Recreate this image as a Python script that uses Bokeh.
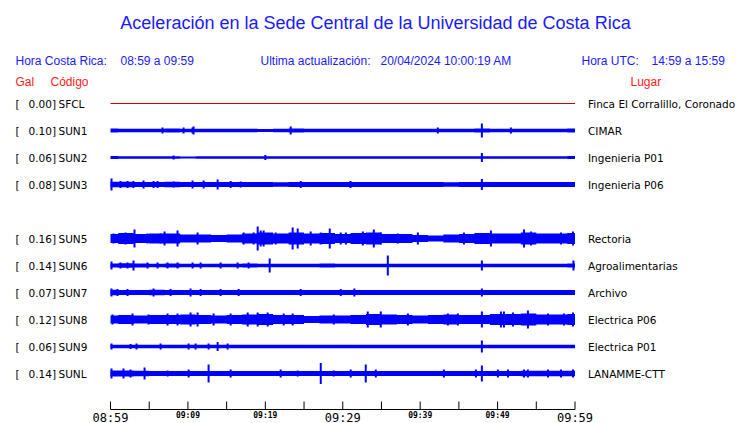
from bokeh.plotting import figure
from bokeh.models import Range1d
from bokeh.core.properties import value
from bokeh.embed import file_html
from bokeh.resources import INLINE

# ---------------- data ----------------
title_text = "Aceleración en la Sede Central de la Universidad de Costa Rica"
cr_label, cr_range = "Hora Costa Rica:", "08:59 a 09:59"
upd_label, upd_value = "Ultima actualización:", "20/04/2024 10:00:19 AM"
utc_label, utc_range = "Hora UTC:", "14:59 a 15:59"

codes = ["SFCL", "SUN1", "SUN2", "SUN3", "SUN5", "SUN6", "SUN7", "SUN8", "SUN9", "SUNL"]
row_index = [0, 1, 2, 3, 5, 6, 7, 8, 9, 10]
gal = [0.00, 0.10, 0.06, 0.08, 0.16, 0.14, 0.07, 0.12, 0.06, 0.14]
places = ["Finca El Corralillo, Coronado", "CIMAR", "Ingenieria P01", "Ingenieria P06",
          "Rectoria", "Agroalimentarias", "Archivo", "Electrica P06", "Electrica P01",
          "LANAMME-CTT"]

tick_minutes = [0, 5, 10, 15, 20, 25, 30, 35, 40, 45, 50, 55, 60]
major_minutes = [0, 30, 60]
major_labels = ["08:59", "09:29", "09:59"]
minor_minutes = [10, 20, 40, 50]
minor_labels = ["09:09", "09:19", "09:39", "09:49"]

# envelope (half amplitude) sampled every 2 minutes, 0..60
env_t = [0, 2, 4, 6, 8, 10, 12, 14, 16, 18, 20, 22, 24, 26, 28, 30,
         32, 34, 36, 38, 40, 42, 44, 46, 48, 50, 52, 54, 56, 58, 60]
env_SUN1 = [2.0, 1.8, 1.8, 1.8, 2.0, 1.8, 1.8, 1.8, 1.8, 1.8, 1.6, 1.8, 2.0, 1.8, 1.8, 1.8,
            1.8, 1.8, 1.8, 1.8, 1.8, 1.8, 1.8, 1.8, 2.0, 1.8, 1.8, 1.8, 1.8, 1.8, 2.0]
env_SUN2 = [1.4, 1.3, 1.3, 1.2, 1.3, 1.1, 1.3, 1.2, 1.3, 1.2, 1.3, 1.2, 1.3, 1.3, 1.3, 1.3,
            1.3, 1.3, 1.3, 1.2, 1.3, 1.3, 1.3, 1.3, 1.3, 1.3, 1.3, 1.2, 1.3, 1.3, 1.4]
env_SUN3 = [2.8, 2.8, 2.6, 2.6, 2.8, 2.4, 2.6, 2.4, 2.4, 2.6, 2.4, 2.2, 2.4, 2.4, 2.4, 2.4,
            2.4, 2.4, 2.4, 2.4, 2.4, 2.4, 2.2, 2.4, 2.6, 2.4, 2.4, 2.4, 2.4, 2.4, 2.6]
env_SUN5 = [4.5, 5.5, 4.5, 5, 5, 4, 4, 3.5, 4, 5, 6, 5, 6, 5, 5.5, 4.5,
            5.5, 6, 4.5, 4.5, 3.5, 3, 4, 4.5, 5.5, 5, 5, 6, 5, 5, 5.5]
env_SUN6 = [2.0, 2.2, 2.0, 1.8, 2.0, 1.8, 1.8, 1.8, 1.8, 2.0, 1.8, 1.8, 1.8, 1.8, 2.0, 1.8,
            1.8, 1.8, 1.8, 1.8, 1.8, 1.8, 1.8, 1.8, 1.8, 1.8, 1.8, 1.8, 1.8, 1.8, 2.0]
env_SUN7 = [2.8, 2.6, 2.5, 2.8, 2.5, 2.5, 2.5, 2.6, 2.5, 2.5, 2.6, 2.5, 2.5, 2.5, 2.5, 2.6,
            2.5, 2.5, 2.5, 2.5, 2.5, 2.5, 2.5, 2.5, 2.5, 2.5, 2.5, 2.5, 2.5, 2.5, 2.6]
env_SUN8 = [4, 4.5, 4, 4.5, 4.5, 5, 4.5, 4, 4.5, 5, 5.5, 4.5, 4.5, 3.5, 4, 4,
            4.5, 5.5, 5, 4.5, 4, 4.5, 5, 4.5, 4.5, 5.5, 5.5, 6, 5, 5, 5.5]
env_SUN9 = [1.8, 1.8, 1.8, 1.8, 1.8, 1.8, 1.8, 1.8, 1.8, 1.8, 1.8, 1.8, 1.8, 1.8, 1.8, 1.8,
            1.8, 1.8, 1.8, 1.8, 1.8, 1.8, 1.8, 1.8, 1.8, 1.8, 1.8, 1.8, 1.8, 1.8, 1.8]
env_SUNL = [3, 3, 2.8, 2.6, 2.5, 2.5, 2.6, 2.5, 2.4, 2.4, 2.5, 2.4, 2.4, 2.5, 2.4, 2.4,
            2.4, 2.4, 2.4, 2.4, 2.4, 2.4, 2.4, 2.4, 2.5, 2.4, 2.5, 2.8, 2.8, 2.8, 2.8]

# isolated peaks: time (minutes after 08:59) and half amplitude
spk_SUN1_t = [6.72, 9.44, 10.6, 10.73, 23.28, 42.28, 47.97, 51.72]
spk_SUN1_a = [3, 3, 3, 4, 4, 3, 7, 3]
spk_SUN2_t = [8.15, 20.0, 47.97]
spk_SUN2_a = [2, 2.5, 4.5]
spk_SUN3_t = [0.13, 1.29, 2.2, 2.97, 4.27, 5.56, 6.08, 8.15, 10.6, 12.03, 13.84, 15.52,
              16.81, 24.57, 31.0, 47.97]
spk_SUN3_a = [6, 3.5, 3.5, 3.5, 4, 3.5, 3.5, 3, 4, 4, 5, 3.5, 3, 3.5, 3.5, 5.5]
spk_SUN5_t = [0.39, 1.94, 3.1, 4.78, 6.47, 6.98, 8.66, 11.25, 17.2, 18.49, 19.01, 19.4,
              19.78, 21.34, 23.53, 24.18, 25.86, 27.16, 28.32, 29.74, 30.4, 32.59,
              34.01, 34.91, 37.11, 39.7, 45.65, 49.14, 53.41, 54.31, 58.19, 59.74]
spk_SUN5_a = [5, 6, 9, 5, 5, 7, 8, 6, 6, 6, 12, 8, 8, 6, 11, 10, 7, 6, 10, 6, 6, 7,
              9, 6, 5, 6, 6, 8, 9, 7, 6, 7]
spk_SUN6_t = [0.13, 1.29, 2.2, 2.97, 4.78, 6.08, 7.37, 8.66, 10.6, 11.64, 14.22, 16.42,
              17.84, 20.56, 35.82, 47.97, 59.8]
spk_SUN6_a = [4, 3, 3, 5, 3, 3, 3, 3, 3, 3, 3, 3, 3, 7, 10, 5, 5]
spk_SUN7_t = [0.13, 0.9, 2.2, 5.56, 7.76, 10.34, 11.64, 14.22, 16.55, 24.57, 29.74,
              31.5, 47.97]
spk_SUN7_a = [4, 3.5, 3.5, 4, 3.5, 4, 3.5, 3.5, 3.5, 3.5, 3.5, 4, 4]
spk_SUN8_t = [0.26, 2.84, 4.91, 7.37, 8.66, 10.34, 11.25, 13.32, 15.52, 17.72, 19.01,
              20.3, 22.37, 23.53, 28.84, 33.23, 34.91, 38.41, 43.58, 44.87, 47.97,
              50.43, 50.82, 51.98, 53.92, 56.51, 58.58, 59.74]
spk_SUN8_a = [5, 6, 5, 6, 6, 7, 7, 6, 6, 7, 7, 7, 6, 6, 5, 8, 8, 6, 6, 6, 8,
              8, 8, 7, 9, 6, 6, 7]
spk_SUN9_t = [0.13, 2.59, 3.36, 6.47, 10.09, 10.99, 12.67, 13.84, 15.13, 47.97]
spk_SUN9_a = [3, 2.5, 3, 3, 3, 3, 3, 4.5, 3, 6]
spk_SUNL_t = [0.13, 1.68, 2.59, 4.4, 7.37, 10.09, 12.67, 15.52, 21.98, 24.18, 27.16,
              28.84, 31.03, 32.97, 34.27, 43.06, 47.2, 47.97, 50.04, 51.34, 53.41,
              53.92, 56.51, 58.19, 59.74]
spk_SUNL_a = [5, 5, 4, 6, 3, 4, 9, 4, 4, 3, 10.5, 3, 4, 9, 4, 4, 4, 8, 4, 4, 4,
              4, 4, 4, 4]

envs = [env_SUN1, env_SUN2, env_SUN3, env_SUN5, env_SUN6, env_SUN7, env_SUN8, env_SUN9, env_SUNL]
spk_t = [spk_SUN1_t, spk_SUN2_t, spk_SUN3_t, spk_SUN5_t, spk_SUN6_t, spk_SUN7_t,
         spk_SUN8_t, spk_SUN9_t, spk_SUNL_t]
spk_a = [spk_SUN1_a, spk_SUN2_a, spk_SUN3_a, spk_SUN5_a, spk_SUN6_a, spk_SUN7_a,
         spk_SUN8_a, spk_SUN9_a, spk_SUNL_a]

# ---------------- layout ----------------
W, H = 740, 423
PX_PER_MIN = (574.5 - 110) / 60.0
X0 = 110  # canvas x of minute 0


def cx(px):
    """canvas x pixel -> data minutes (for text placement)"""
    return (px - X0) / PX_PER_MIN


p = figure(width=W, height=H, output_backend="svg", toolbar_location=None,
           x_range=Range1d(-X0 / PX_PER_MIN, (W - X0) / PX_PER_MIN),
           y_range=Range1d(H, 0),
           x_axis_location=None, y_axis_location=None,
           min_border=0, min_border_left=0, min_border_right=0,
           min_border_top=0, min_border_bottom=0)
p.outline_line_color = None
p.grid.visible = False
p.background_fill_color = "white"
p.border_fill_color = "white"

BLUE = "#0000ff"
TBLUE = "#1a1aff"
RED = "#ff1a1a"
SANS = value("Liberation Sans")
DJ = value("DejaVu Sans")
MONO = value("DejaVu Sans Mono")

row0 = 103.0
row_step = 27.0
row_y = [row0 + row_step * r for r in row_index]

# title and headers
p.text(x=[cx(375)], y=[22], text=[title_text], text_font=SANS, text_font_size="18px",
       text_color=TBLUE, text_align="center", text_baseline="middle")
p.text(x=[cx(15), cx(120), cx(260), cx(380), cx(581), cx(651)],
       y=[60] * 6,
       text=[cr_label, cr_range, upd_label, upd_value, utc_label, utc_range],
       text_font=SANS, text_font_size="12px", text_color=TBLUE,
       text_align="left", text_baseline="middle")
p.text(x=[cx(15), cx(50), cx(630)], y=[81] * 3, text=["Gal", "Código", "Lugar"],
       text_font=SANS, text_font_size="12px", text_color=RED,
       text_align="left", text_baseline="middle")

# row labels
n = len(codes)
p.text(x=[cx(15)] * n, y=row_y, text=["["] * n, text_font=DJ,
       text_font_size="10.5px", text_color="black", text_baseline="middle")
p.text(x=[cx(55.5)] * n, y=row_y, text=["%.2f]" % g for g in gal], text_font=DJ,
       text_font_size="10.5px", text_color="black", text_align="right", text_baseline="middle")
p.text(x=[cx(58)] * n, y=row_y, text=codes, text_font=DJ,
       text_font_size="10.5px", text_color="black", text_baseline="middle")
p.text(x=[cx(587.5)] * n, y=row_y, text=places, text_font=DJ,
       text_font_size="10.5px", text_color="black", text_baseline="middle")

# SFCL flat trace
p.line(x=[0, 60], y=[row_y[0], row_y[0]], line_color="#cc0000", line_width=1)

# other traces: blocky envelope + peaks
for k in range(len(envs)):
    yc = row_y[k + 1]
    e = envs[k]
    p.varea_step(x=env_t, y1=[yc - a for a in e], y2=[yc + a for a in e],
                 step_mode="center", fill_color=BLUE)
    p.segment(x0=spk_t[k], y0=[yc - a for a in spk_a[k]], x1=spk_t[k],
              y1=[yc + a for a in spk_a[k]], line_color=BLUE, line_width=2)

# time axis
axis_y = 409
p.line(x=[tick_minutes[0], tick_minutes[-1]], y=[axis_y, axis_y], line_color="black", line_width=1)
p.segment(x0=tick_minutes, y0=[axis_y] * len(tick_minutes), x1=tick_minutes,
          y1=[axis_y - 8] * len(tick_minutes), line_color="black", line_width=1)
p.text(x=major_minutes, y=[410] * 3, text=major_labels, text_font=MONO,
       text_font_size="12px", text_color="black", text_align="center", text_baseline="top")
p.text(x=minor_minutes, y=[410.5] * 4, text=minor_labels, text_font=MONO,
       text_font_size="8px", text_font_style="bold", text_color="black",
       text_align="center", text_baseline="top")

open("out.html", "w").write(file_html(p, INLINE))
